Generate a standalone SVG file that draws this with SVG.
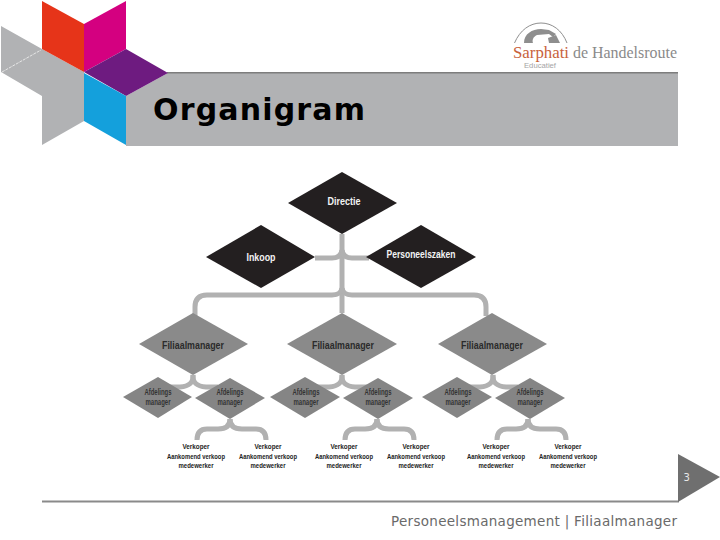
<svg xmlns="http://www.w3.org/2000/svg" width="720" height="540" viewBox="0 0 720 540">
<style>
.c{fill:none;stroke:#b1b1b1;stroke-width:5}
.t{font-family:"Liberation Sans",sans-serif;font-weight:700;text-anchor:middle}
.w{fill:#f4f4f4;font-size:10.500px}
.m{fill:#2b2b2b;font-size:11px}
.a{fill:#333;font-size:8.500px}
.s{fill:#222;font-size:7.800px}
.dk{fill:#231f20}
.g1{fill:#8a8a8a}
.g2{fill:#858585}
</style>
<rect width="720" height="540" fill="#fff"/>
<g id="band">
<polygon points="126,96 168,73 678,73 678,146 126,146" fill="#b1b2b4"/>
<rect x="167" y="72" width="511" height="1.500" fill="#7d7d7d"/>
<polygon points="1,26 42,49 84,72 84,121 42,145 42,96 1,72" fill="#b1b2b4"/>
<line x1="2" y1="72" x2="41" y2="50" stroke="#e6e6e6" stroke-width="1" stroke-dasharray="3 1"/>
<polygon points="42,1 84,24 84,72 42,49" fill="#e63419"/>
<polygon points="84,24 126,1 126,49 84,72" fill="#d40080"/>
<polygon points="84,72 126,49 168,73 126,96" fill="#6e1b80"/>
<polygon points="84,73 126,96 126,145 84,121" fill="#14a0dc"/>
<text x="153" y="120" font-family="'DejaVu Sans',sans-serif" font-weight="700" font-size="30" fill="#000" textLength="212" lengthAdjust="spacing">Organigram</text>
</g>
<g id="brand">
<path d="M514.500 43C520 30 530 23 541 23C552 23 562 30 567 43" fill="none" stroke="#8f8f8f" stroke-width="1"/>
<path d="M524 43C524 34 532 29 541 29L549 30L556 34L553 37L549 34L537 35C533 37 532 40 533 43Z" fill="#8e8e8e"/>
<path d="M548 38L556 35L560 43L549 43Z" fill="#8e8e8e"/>
<text x="513" y="58" font-family="'Liberation Serif',serif" font-size="17.500" fill="#c8623c" textLength="56" lengthAdjust="spacingAndGlyphs">Sarphati</text>
<text x="573" y="58" font-family="'Liberation Serif',serif" font-size="17.500" fill="#8a8a8a" textLength="104" lengthAdjust="spacingAndGlyphs">de Handelsroute</text>
<text x="524" y="68" font-family="'Liberation Sans',sans-serif" font-size="7" fill="#a5a5a5" textLength="32" lengthAdjust="spacingAndGlyphs">Educatief</text>
</g>
<g id="connectors">
<path class="c" d="M342 234V313"/>
<path class="c" d="M315 258H332Q341 258 342 250"/>
<path class="c" d="M369 258H352Q343 258 342 250"/>
<path class="c" d="M195 316V307Q195 295 207 295H332Q341 295 342 288"/>
<path class="c" d="M486 316V307Q486 295 474 295H352Q343 295 342 288"/>
<g id="branch-1">
<path class="c" d="M193 375Q194 386 180 387H168"/>
<path class="c" d="M193 375Q192 386 206 387H218"/>
<path class="c" d="M230 419Q230 429 218 429H207Q197 429 197 440"/>
<path class="c" d="M230 419Q230 429 242 429H256Q266 429 266 440"/>
</g>
<g id="branch-2">
<path class="c" d="M342 375Q343 386 329 387H317"/>
<path class="c" d="M342 375Q341 386 355 387H367"/>
<path class="c" d="M377 419Q377 429 365 429H355Q345 429 345 440"/>
<path class="c" d="M377 419Q377 429 389 429H404Q414 429 414 440"/>
</g>
<g id="branch-3">
<path class="c" d="M493 375Q494 386 480 387H468"/>
<path class="c" d="M493 375Q492 386 506 387H518"/>
<path class="c" d="M528 419Q528 429 516 429H507Q497 429 497 440"/>
<path class="c" d="M528 419Q528 429 540 429H556Q566 429 566 440"/>
</g>
</g>
<g id="directie"><polygon class="dk" points="288,203 342,172 397,203 342,234"/><text class="t w" x="344" y="205" textLength="33" lengthAdjust="spacingAndGlyphs">Directie</text></g>
<g id="inkoop"><polygon class="dk" points="206,257 261,225 315,257 261,288"/><text class="t w" x="261" y="261" textLength="29" lengthAdjust="spacingAndGlyphs">Inkoop</text></g>
<g id="personeelszaken"><polygon class="dk" points="366,257 421,225 476,257 421,288"/><text class="t w" x="421" y="258" textLength="69" lengthAdjust="spacingAndGlyphs">Personeelszaken</text></g>
<g id="filiaal-1"><polygon class="g1" points="139,344 193,313 248,344 193,375"/><text class="t m" x="193" y="349" textLength="62" lengthAdjust="spacingAndGlyphs">Filiaalmanager</text></g>
<g id="filiaal-2"><polygon class="g1" points="287,344 342,313 397,344 342,375"/><text class="t m" x="343" y="349" textLength="62" lengthAdjust="spacingAndGlyphs">Filiaalmanager</text></g>
<g id="filiaal-3"><polygon class="g1" points="438,344 492,313 547,344 492,375"/><text class="t m" x="492" y="349" textLength="62" lengthAdjust="spacingAndGlyphs">Filiaalmanager</text></g>
<g id="afd-1"><polygon class="g2" points="123,397 158,377 192,397 158,418"/><text class="t a" x="158" y="395" textLength="27" lengthAdjust="spacingAndGlyphs">Afdelings</text><text class="t a" x="158" y="405" textLength="25" lengthAdjust="spacingAndGlyphs">manager</text></g>
<g id="afd-2"><polygon class="g2" points="195,398 230,378 265,398 230,419"/><text class="t a" x="230" y="395" textLength="27" lengthAdjust="spacingAndGlyphs">Afdelings</text><text class="t a" x="230" y="405" textLength="25" lengthAdjust="spacingAndGlyphs">manager</text></g>
<g id="afd-3"><polygon class="g2" points="270,397 305,377 340,397 305,418"/><text class="t a" x="306" y="395" textLength="27" lengthAdjust="spacingAndGlyphs">Afdelings</text><text class="t a" x="306" y="405" textLength="25" lengthAdjust="spacingAndGlyphs">manager</text></g>
<g id="afd-4"><polygon class="g2" points="343,398 378,378 413,398 378,419"/><text class="t a" x="378" y="395" textLength="27" lengthAdjust="spacingAndGlyphs">Afdelings</text><text class="t a" x="378" y="405" textLength="25" lengthAdjust="spacingAndGlyphs">manager</text></g>
<g id="afd-5"><polygon class="g2" points="422,397 457,377 492,397 457,418"/><text class="t a" x="458" y="395" textLength="27" lengthAdjust="spacingAndGlyphs">Afdelings</text><text class="t a" x="458" y="405" textLength="25" lengthAdjust="spacingAndGlyphs">manager</text></g>
<g id="afd-6"><polygon class="g2" points="495,398 530,378 565,398 530,419"/><text class="t a" x="530" y="395" textLength="27" lengthAdjust="spacingAndGlyphs">Afdelings</text><text class="t a" x="530" y="405" textLength="25" lengthAdjust="spacingAndGlyphs">manager</text></g>
<g id="staff-1"><text class="t s" x="196" y="449" textLength="27" lengthAdjust="spacingAndGlyphs">Verkoper</text><text class="t s" x="196" y="458.500" textLength="58" lengthAdjust="spacingAndGlyphs">Aankomend verkoop</text><text class="t s" x="196" y="468" textLength="35" lengthAdjust="spacingAndGlyphs">medewerker</text></g>
<g id="staff-2"><text class="t s" x="268" y="449" textLength="27" lengthAdjust="spacingAndGlyphs">Verkoper</text><text class="t s" x="268" y="458.500" textLength="58" lengthAdjust="spacingAndGlyphs">Aankomend verkoop</text><text class="t s" x="268" y="468" textLength="35" lengthAdjust="spacingAndGlyphs">medewerker</text></g>
<g id="staff-3"><text class="t s" x="344" y="449" textLength="27" lengthAdjust="spacingAndGlyphs">Verkoper</text><text class="t s" x="344" y="458.500" textLength="58" lengthAdjust="spacingAndGlyphs">Aankomend verkoop</text><text class="t s" x="344" y="468" textLength="35" lengthAdjust="spacingAndGlyphs">medewerker</text></g>
<g id="staff-4"><text class="t s" x="416" y="449" textLength="27" lengthAdjust="spacingAndGlyphs">Verkoper</text><text class="t s" x="416" y="458.500" textLength="58" lengthAdjust="spacingAndGlyphs">Aankomend verkoop</text><text class="t s" x="416" y="468" textLength="35" lengthAdjust="spacingAndGlyphs">medewerker</text></g>
<g id="staff-5"><text class="t s" x="496" y="449" textLength="27" lengthAdjust="spacingAndGlyphs">Verkoper</text><text class="t s" x="496" y="458.500" textLength="58" lengthAdjust="spacingAndGlyphs">Aankomend verkoop</text><text class="t s" x="496" y="468" textLength="35" lengthAdjust="spacingAndGlyphs">medewerker</text></g>
<g id="staff-6"><text class="t s" x="568" y="449" textLength="27" lengthAdjust="spacingAndGlyphs">Verkoper</text><text class="t s" x="568" y="458.500" textLength="58" lengthAdjust="spacingAndGlyphs">Aankomend verkoop</text><text class="t s" x="568" y="468" textLength="35" lengthAdjust="spacingAndGlyphs">medewerker</text></g>
<g id="footer">
<rect x="42" y="500.500" width="637" height="2" fill="#8a8a8a"/>
<polygon points="678,454 720,477 678,502" fill="#6f6f6f"/>
<text x="683.500" y="481" font-family="'DejaVu Sans',sans-serif" font-size="10" fill="#e8e8e8">3</text>
<text x="391" y="526" font-family="'DejaVu Sans',sans-serif" font-size="13.500" fill="#6a6a6a" textLength="286" lengthAdjust="spacing">Personeelsmanagement | Filiaalmanager</text>
</g>
</svg>
